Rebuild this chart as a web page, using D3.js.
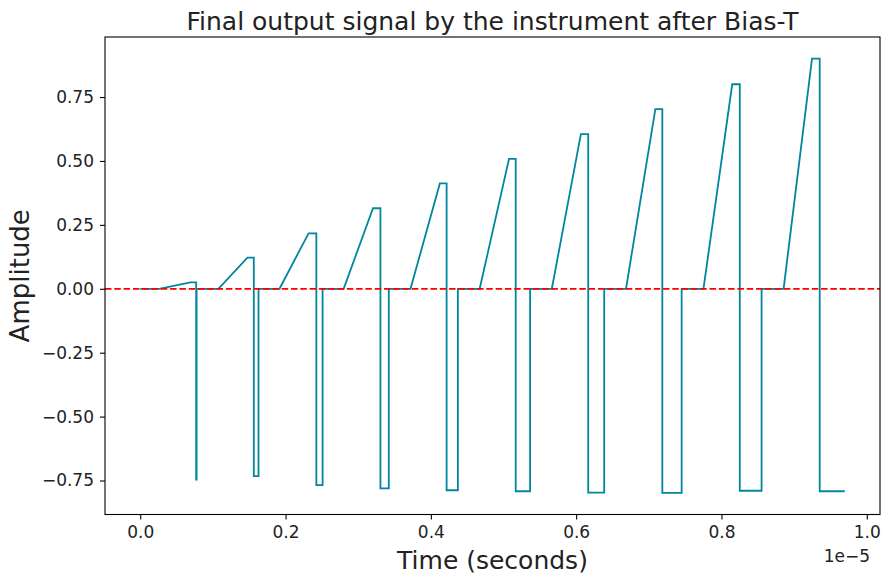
<!DOCTYPE html>
<html>
<head>
<meta charset="utf-8">
<script src="https://cdn.jsdelivr.net/npm/d3@7"></script>
<style>
  body { margin: 0; background: #fff; }
  text { font-family: "DejaVu Sans", sans-serif; fill: #222; }
</style>
</head>
<body>
<svg id="chart" width="889" height="583"></svg>
<script>
// Pulse train (time in units of 1e-5 s)
var rampStart = [0.026, 0.1076, 0.1917, 0.280, 0.372, 0.4672, 0.5665, 0.6686, 0.7752, 0.8855];
var peakTime  = [0.069, 0.1476, 0.2317, 0.3204, 0.4124, 0.5076, 0.6065, 0.7090, 0.8148, 0.9246];
var dropTime  = [0.0770, 0.1563, 0.2424, 0.3306, 0.4217, 0.5168, 0.6166, 0.7186, 0.8252, 0.9352];
var riseTime  = [0.0776, 0.1628, 0.2510, 0.3421, 0.4372, 0.5366, 0.6386, 0.7452, 0.8552, 0.9697];
var peakAmp   = [0.025, 0.122, 0.217, 0.315, 0.412, 0.508, 0.605, 0.703, 0.800, 0.900];
var negAmp    = [-0.746, -0.733, -0.768, -0.781, -0.788, -0.792, -0.797, -0.798, -0.790, -0.792];
var startTime = 0.0;

var xTicks = [0, 0.2, 0.4, 0.6, 0.8, 1.0];
var yTicks = [-0.75, -0.5, -0.25, 0, 0.25, 0.5, 0.75];

// build the vertex list for the line
var points = [[startTime, 0]];
rampStart.forEach(function(t, i) {
  points.push([t, 0]);
  points.push([peakTime[i], peakAmp[i]]);
  points.push([dropTime[i], peakAmp[i]]);
  points.push([dropTime[i], negAmp[i]]);
  points.push([riseTime[i], negAmp[i]]);
  if (i < rampStart.length - 1) points.push([riseTime[i], 0]);
});

var width = 889, height = 583;
var margin = {top: 37, right: 9, bottom: 68.5, left: 105};

var svg = d3.select("#chart");

var xMin = d3.min(points, function(d) { return d[0]; }),
    xMax = d3.max(points, function(d) { return d[0]; }),
    yMin = d3.min(points, function(d) { return d[1]; }),
    yMax = d3.max(points, function(d) { return d[1]; });
var xPad = (xMax - xMin) * 0.05, yPad = (yMax - yMin) * 0.05;

var x = d3.scaleLinear()
  .domain([xMin - xPad, xMax + xPad])
  .range([margin.left, width - margin.right]);

var y = d3.scaleLinear()
  .domain([yMin - yPad, yMax + yPad])
  .range([height - margin.bottom, margin.top]);

// signal line
var line = d3.line()
  .x(function(d) { return x(d[0]); })
  .y(function(d) { return y(d[1]); });

svg.append("path")
  .datum(points)
  .attr("d", line)
  .attr("fill", "none")
  .attr("stroke", "#00869f")
  .attr("stroke-width", 1.8)
  .attr("stroke-linejoin", "miter");

// zero reference
svg.append("line")
  .attr("x1", margin.left)
  .attr("x2", width - margin.right)
  .attr("y1", y(0))
  .attr("y2", y(0))
  .attr("stroke", "#ff0000")
  .attr("stroke-width", 1.8)
  .attr("stroke-dasharray", "6.5,2.8");

// axes
var fmtX = d3.format(".1f");
var fmtY = function(v) { return d3.format(".2f")(v).replace("-", "\u2212"); };

var xAxis = svg.append("g")
  .attr("transform", "translate(0," + (height - margin.bottom) + ")")
  .call(d3.axisBottom(x).tickValues(xTicks).tickFormat(fmtX).tickSize(5).tickPadding(6));

var yAxis = svg.append("g")
  .attr("transform", "translate(" + margin.left + ",0)")
  .call(d3.axisLeft(y).tickValues(yTicks).tickFormat(fmtY).tickSize(5).tickPadding(6));

[xAxis, yAxis].forEach(function(a) {
  a.select(".domain").remove();
  a.selectAll(".tick line").attr("stroke", "#000").attr("stroke-width", 1.1);
  a.selectAll(".tick text").style("font-size", "17px").style("font-family", "DejaVu Sans").attr("fill", "#222");
});

// frame
svg.append("rect")
  .attr("x", margin.left)
  .attr("y", margin.top)
  .attr("width", width - margin.left - margin.right)
  .attr("height", height - margin.top - margin.bottom)
  .attr("fill", "none")
  .attr("stroke", "#000")
  .attr("stroke-width", 1.1);

// labels
svg.append("text")
  .attr("x", (margin.left + width - margin.right) / 2)
  .attr("y", 30)
  .attr("text-anchor", "middle")
  .style("font-size", "25px")
  .text("Final output signal by the instrument after Bias-T");

svg.append("text")
  .attr("x", (margin.left + width - margin.right) / 2)
  .attr("y", 569)
  .attr("text-anchor", "middle")
  .style("font-size", "25px")
  .text("Time (seconds)");

svg.append("text")
  .attr("transform", "translate(29," + ((margin.top + height - margin.bottom) / 2) + ") rotate(-90)")
  .attr("text-anchor", "middle")
  .style("font-size", "26px")
  .text("Amplitude");

svg.append("text")
  .attr("x", width - margin.right - 10)
  .attr("y", 562)
  .attr("text-anchor", "end")
  .style("font-size", "17px")
  .text("1e\u22125");
</script>
</body>
</html>
